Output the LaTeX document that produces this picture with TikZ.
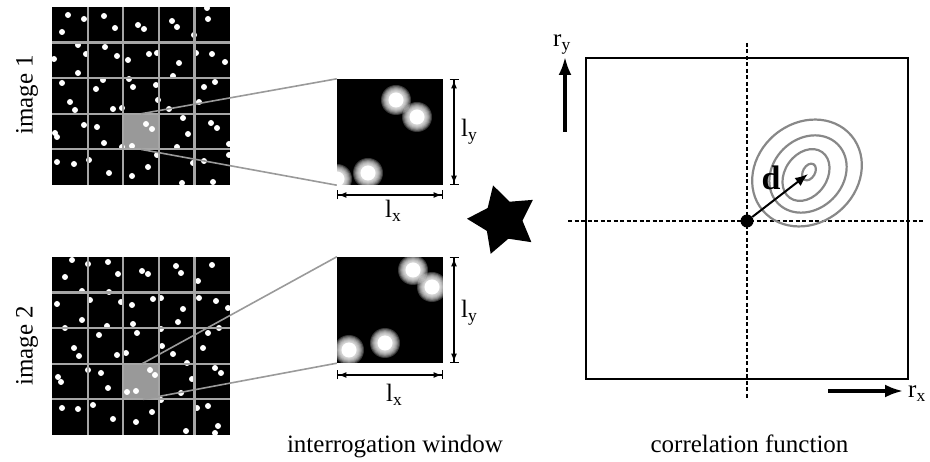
\documentclass[tikz,border=0pt]{standalone}
\usepackage{fontspec}
\setmainfont{Liberation Serif}
\usetikzlibrary{arrows.meta,shapes.geometric}
\definecolor{gridgray}{HTML}{A6A6A6}
\definecolor{cellgray}{HTML}{999999}
\definecolor{linkgray}{HTML}{9A9A9A}
\definecolor{contourgray}{HTML}{888888}
\begin{document}
\begin{tikzpicture}[x=1pt,y=-1pt,font=\fontsize{25}{30}\selectfont,
  imgsq/.style={rectangle,fill=black,minimum size=178pt,inner sep=0pt,draw=none},
  winsq/.style={rectangle,fill=black,minimum size=106pt,inner sep=0pt,draw=none},
  gridline/.style={gridgray,line width=2.2pt},
  link/.style={linkgray,line width=1.6pt},
  dimarrow/.style={line width=1.4pt,{Bar[width=9pt]Latex[length=8pt,width=6pt]}-{Latex[length=8pt,width=6pt]Bar[width=9pt]}},
  axisarrow/.style={line width=3.2pt,-{Latex[length=18pt,width=13pt]}},
  dashline/.style={dash pattern=on 4pt off 2.5pt,line width=1.3pt},
  contour/.style={contourgray,line width=2.2pt},
  dot/.style={white},
  glow/.style={white,opacity=0.22}]
\useasboundingbox (0,0) rectangle (930,462);

% ---------- image 1 ----------
\node[imgsq] (img1) at (141,96) {};
\begin{scope}
  \clip (52,7) rectangle (230,185);
  \fill[cellgray] (123.2,113.8) rectangle (158.8,149.4);
  \foreach \x/\y in {68/15,84/19,62/32,104/16,115/28,138/25,144/29,172/21,177/27,208/19,207/8,194/35,
    78/45,86/54,54/59,105/47,117/56,128/60,149/54,157/53,179/63,196/53,212/54,225/62,78/73,173/76,
    62/83,103/80,96/89,129/79,133/87,156/85,158/100,70/102,75/110,113/109,122/108,169/109,204/87,215/82,199/102,
    55/133,57/137,84/125,97/127,104/143,146/124,152/129,132/146,122/147,183/118,188/134,177/147,211/123,217/128,229/144,
    57/162,74/164,89/160,109/173,132/176,148/167,157/155,182/183,193/163,204/161,213/182,229/155}
    \fill[dot] (\x,\y) circle (3pt);
  \foreach \k in {1,2,3,4}{
    \draw[gridline] (52+35.6*\k,7) -- (52+35.6*\k,185);
    \draw[gridline] (52,7+35.6*\k) -- (230,7+35.6*\k);
  }
\end{scope}
\coordinate (c1t) at (141,113.8);
\coordinate (c1b) at (141,149.4);

% ---------- image 2 ----------
\node[imgsq] (img2) at (141,346) {};
\begin{scope}
  \clip (52,257) rectangle (230,435);
  \fill[cellgray] (123.2,363.8) rectangle (158.8,399.4);
  \foreach \x/\y in {72/260,88/264,108/262,65/277,118/274,142/271,148/274,176/266,181/273,212/265,198/281,
    82/291,109/292,57/304,90/300,121/302,132/305,153/299,161/298,183/309,199/298,216/301,228/308,82/320,107/326,133/324,178/322,
    65/328,99/335,137/333,161/329,162/346,74/348,79/356,117/355,126/353,173/354,208/333,219/328,203/348,187/363,
    58/377,61/382,88/370,101/373,108/388,150/370,155/375,136/391,127/392,192/379,181/393,215/368,221/373,
    62/408,78/409,93/405,113/419,136/422,152/412,161/400,186/431,197/408,208/406,218/426,215/433}
    \fill[dot] (\x,\y) circle (3pt);
  \foreach \k in {1,2,3,4}{
    \draw[gridline] (52+35.6*\k,257) -- (52+35.6*\k,435);
    \draw[gridline] (52,257+35.6*\k) -- (230,257+35.6*\k);
  }
\end{scope}
\coordinate (c2t) at (142,363.8);
\coordinate (c2b) at (143,399.4);

\node[rotate=90] (lab1) at (27,95) {image 1};
\node[rotate=90] (lab2) at (27,346) {image 2};

% ---------- interrogation windows ----------
\node[winsq] (win1) at (390,132) {};
\begin{scope}
  \clip (337,79) rectangle (443,185);
  \foreach \x/\y in {396/100,417/117,368/173,337/179}{
    \foreach \r in {15,14,13,12,11,10,9,8}
      \fill[glow] (\x,\y) circle (\r pt);
    \fill[white] (\x,\y) circle (7.5pt);
  }
\end{scope}
\node[winsq] (win2) at (390,310) {};
\begin{scope}
  \clip (337,257) rectangle (443,363);
  \foreach \x/\y in {413/270,432/287,385/343,349/350}{
    \foreach \r in {15,14,13,12,11,10,9,8}
      \fill[glow] (\x,\y) circle (\r pt);
    \fill[white] (\x,\y) circle (7.5pt);
  }
\end{scope}

\draw[link] (c1t) -- (win1.north west);
\draw[link] (c1b) -- (win1.south west);
\draw[link] (c2t) -- (win2.north west);
\draw[link] (c2b) -- (win2.south west);

\coordinate (v1a) at (454,79);  \coordinate (v1b) at (454,185);
\coordinate (h1a) at (337,195); \coordinate (h1b) at (443,195);
\coordinate (v2a) at (454,257); \coordinate (v2b) at (454,363);
\coordinate (h2a) at (337,375); \coordinate (h2b) at (443,375);
\draw[dimarrow] (v1a) -- (v1b);
\draw[dimarrow] (h1a) -- (h1b);
\draw[dimarrow] (v2a) -- (v2b);
\draw[dimarrow] (h2a) -- (h2b);
\node[anchor=base west,inner sep=0pt] (ly1) at (461,137) {l\textsubscript{y}};
\node[anchor=base west,inner sep=0pt] (lx1) at (385,218) {l\textsubscript{x}};
\node[anchor=base west,inner sep=0pt] (ly2) at (461,318) {l\textsubscript{y}};
\node[anchor=base west,inner sep=0pt] (lx2) at (386,402) {l\textsubscript{x}};

\node[anchor=base] (iwlab) at (395,453) {interrogation window};

% ---------- star ----------
\node[star,star points=5,star point ratio=1.85,minimum size=72pt,inner sep=0pt,fill=black,rotate=16] (conv) at (503,220) {};

% ---------- correlation function ----------
\node[rectangle,draw=black,line width=2.8pt,minimum width=322pt,minimum height=321pt,inner sep=0pt] (corr) at (747,218.5) {};
\coordinate (vt) at (747,43);  \coordinate (vb) at (747,399);
\coordinate (hl) at (568,221); \coordinate (hr) at (925,221);
\draw[dashline] (vt) -- (vb);
\draw[dashline] (hl) -- (hr);

\draw[contour,rotate around={40:(807,173)}] (807,173) ellipse [x radius=58pt,y radius=50pt];
\draw[contour,rotate around={45:(808,174)}] (808,174) ellipse [x radius=42pt,y radius=35pt];
\draw[contour,rotate around={55:(806,175)}] (806,175) ellipse [x radius=28pt,y radius=21pt];
\draw[contour,rotate around={60:(809,172)}] (809,172) ellipse [x radius=9pt,y radius=6pt];

\node[circle,fill=black,minimum size=13pt,inner sep=0pt] (orig) at (747,221) {};
\coordinate (peak) at (808,174);
\draw[line width=2pt,-{Latex[length=13pt,width=10pt]}] (orig) -- (peak);
\node[anchor=base,inner sep=0pt,font=\fontsize{34}{34}\selectfont\bfseries] (dlab) at (771,190) {d};

\coordinate (rya) at (565,132); \coordinate (ryb) at (565,57);
\coordinate (rxa) at (828,391); \coordinate (rxb) at (903,391);
\draw[axisarrow] (rya) -- (ryb);
\draw[axisarrow] (rxa) -- (rxb);
\node[anchor=base west,inner sep=0pt] (rylab) at (553,47) {r\textsubscript{y}};
\node[anchor=base west,inner sep=0pt] (rxlab) at (908,398) {r\textsubscript{x}};

\node[anchor=base] (cflab) at (749.5,453) {correlation function};
\end{tikzpicture}
\end{document}
